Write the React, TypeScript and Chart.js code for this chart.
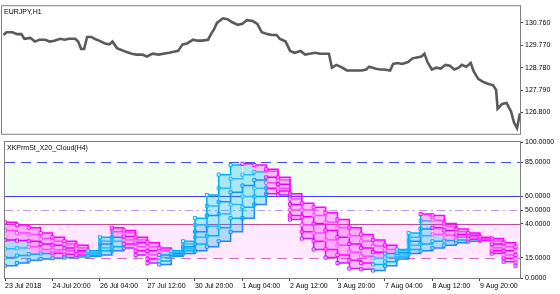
import React, { useEffect, useRef } from "react";
import { Chart, registerables } from "chart.js";
Chart.register(...registerables);

// ---------- data ----------
const priceBars = [1,3,7,10,13,15,19,22,25,29,32,35,39,42,45,49,51,53,55,57,60,62,65,69,72,74,77,80,83,87,90,94,97,101,105,108,112,115,118,121,124,128,131,134,138,140,142,144,148,151,154,158,161,164,168,171,174,178,181,184,186,190,193,196,200,203,206,210,213,216,219,221,224,228,231,234,238,241,244,246,250,253,256,260,262,265,268,272,275,278,281,283,285,288,291,294,297,300,303,306,308,311,314,316,319,322,325,329,331,332,335,338,341,343,345,347];
const priceValues = [130.224,130.348,130.348,130.265,130.265,130.059,130.100,129.935,130.018,130.018,129.935,129.976,130.059,130.018,130.059,130.059,129.935,129.605,129.605,130.141,130.141,130.059,129.976,129.853,129.811,129.935,129.646,129.564,129.481,129.399,129.358,129.358,129.275,129.399,129.358,129.399,129.440,129.481,129.523,129.811,129.853,130.018,129.976,129.976,130.018,130.265,130.471,130.760,130.966,130.925,130.801,130.678,130.719,130.884,130.843,130.719,130.348,130.265,130.224,130.224,130.059,129.935,129.523,129.440,129.523,129.358,129.399,129.440,129.399,129.399,129.399,128.780,128.904,128.780,128.656,128.656,128.656,128.656,128.698,128.821,128.739,128.698,128.698,128.656,128.945,128.986,128.945,129.028,129.193,129.234,129.275,129.399,129.028,128.698,128.780,128.739,128.904,128.863,128.698,128.780,128.904,128.821,128.986,128.615,128.285,128.161,128.079,127.996,127.790,126.965,127.171,127.213,126.841,126.346,126.099,126.759];
const priceTicks = [126.8, 127.79, 128.78, 129.77, 130.76];
const priceMin = 125.851;
const priceMax = 131.502;

const cloudBars = [0,8,16,24,32,40,48,56,64,72,80,88,96,104,112,120,128,136,144,152,160,168,176,184,192,200,208,216,224,232,240,248,256,264,272,280,288,296,304,312,320,328,336,344];
const cloudLine1 = [41,39,37,33,30,27,24,20,30,37,35,30,26,22,20,27,44,61,76,83,84,83,80,74,62,55,52,48,43,37,32,28,24,21,33,47,46,40,36,33,30,29,26,23];
const cloudLine2 = [35,33,32,29,27,25,22,19,27,34,33,28,23,20,19,25,39,53,66,73,76,78,78.5,72,58,50,46,41,37,31,27,23.5,21,20,30,42,42.5,38,34,32,29.5,27,23,20];
const cloudLine3 = [28,27.5,27,25,24,22,20,18.5,25,30,30.5,26,20,17,18,23,34,46,56,63,68,72,74,69,54,45,40,35,30,25,22,19,18,18.5,27,36,37,35,32,31,29,25,20,17];
const cloudLine4 = [21.5,22,23,21,20.5,20,19,17.5,22,27,28,23,17,15,17.5,21.5,30,38,47,54,60,66,70,66,50,39,33,28,24,19,16,14.5,15,17,24,31,32,31.5,30,29.5,28.5,22,17,14];
const cloudLine5 = [15,16.5,17.5,18,18.2,17.5,17,16.5,20,23,25,20,14,12.5,16.5,20,25,31,37,44,52,60,66,64,46,34,27,21,17,13,11,10,12,15.5,21,25,27,27.5,28,28.5,28,20,14.5,11.5];
const cloudLine6 = [9,11,13,14,14.5,15,15.5,16,17,20,22,17,11,10,16,18,20,23,27,34,44,54,62,61,43,29,21,15,11,7,6.5,5.5,9,14,18,20,22,24,26,27,27.5,18,12,9];
const cloudLines = [cloudLine1, cloudLine2, cloudLine3, cloudLine4, cloudLine5, cloudLine6];

const indicatorTicks = [0, 15, 40, 50, 60, 85, 100];
const timeTickBars = [0, 32, 64, 96, 128, 160, 192, 224, 256, 288, 320];
const timeTickLabels = ["23 Jul 2018","24 Jul 20:00","26 Jul 04:00","27 Jul 12:00","30 Jul 20:00","1 Aug 04:00","2 Aug 12:00","3 Aug 20:00","7 Aug 04:00","8 Aug 12:00","9 Aug 20:00"];
const barCount = 347;

// ---------- styles ----------
const FONT = "'Liberation Sans', Arial, sans-serif";
const risingColors = ["#00b0f0", "#30bcff", "#1090ff", "#30bcff", "#00b0f0", "#2a7cff"];
const fallingColors = ["#ff00ff", "#ff50ff", "#e000ff", "#ff50ff", "#ff00ff", "#c020ff"];
const risingFill = "rgba(0,176,240,0.30)";
const fallingFill = "rgba(255,0,255,0.26)";

const framePlugin = {
  id: "frame",
  afterDraw(chart: any, _a: any, opts: any) {
    const { ctx, chartArea } = chart;
    ctx.save();
    ctx.strokeStyle = "#7f7f7f";
    ctx.lineWidth = 1;
    ctx.strokeRect(chartArea.left - 0.5, chartArea.top - 0.5, chartArea.right - chartArea.left + 1, chartArea.bottom - chartArea.top + 1);
    ctx.fillStyle = "#000";
    ctx.font = "7px " + FONT;
    ctx.textBaseline = "alphabetic";
    ctx.textAlign = "left";
    ctx.fillText(opts.title, chartArea.left + 2, chartArea.top + opts.titleY);
    ctx.restore();
  },
};

const levelsPlugin = {
  id: "levels",
  beforeDatasetsDraw(chart: any) {
    const { ctx, chartArea, scales } = chart;
    const y = scales.y;
    const L = chartArea.left, R = chartArea.right;
    ctx.save();
    ctx.fillStyle = "#f0fff0";
    ctx.fillRect(L, y.getPixelForValue(85), R - L, y.getPixelForValue(60) - y.getPixelForValue(85));
    ctx.fillStyle = "#ffe8ff";
    ctx.fillRect(L, y.getPixelForValue(40), R - L, y.getPixelForValue(15) - y.getPixelForValue(40));
    const line = (v: number, color: string, dash: number[]) => {
      const py = Math.round(y.getPixelForValue(v)) + 0.5;
      ctx.beginPath();
      ctx.setLineDash(dash);
      ctx.strokeStyle = color;
      ctx.lineWidth = 1;
      ctx.moveTo(L, py);
      ctx.lineTo(R, py);
      ctx.stroke();
    };
    line(85, "#4646ff", [10, 6]);
    line(60, "#3c3cff", []);
    line(50, "#c09af0", [8, 4, 2, 4]);
    line(40, "#c04c90", []);
    line(15, "#d46aba", [10, 6]);
    ctx.restore();
  },
};

// horizontal gradient for the band between line li and li+1, coloured by direction
function bandFill(c: any, li: number) {
  const chart = c.chart;
  const xs = chart.scales && chart.scales.x;
  if (!chart.chartArea || !xs) return "rgba(0,0,0,0)";
  const left = chart.chartArea.left, right = chart.chartArea.right;
  const g = chart.ctx.createLinearGradient(left, 0, right, 0);
  const a = cloudLines[li], b = cloudLines[li + 1];
  const w = right - left;
  for (let i = 0; i < cloudBars.length; i++) {
    const x0 = xs.getPixelForValue(cloudBars[i]);
    const x1 = i + 1 < cloudBars.length ? xs.getPixelForValue(cloudBars[i + 1]) : right;
    const d = i + 1 < cloudBars.length ? (a[i + 1] - a[i]) + (b[i + 1] - b[i]) : (a[i] - a[i - 1]) + (b[i] - b[i - 1]);
    const col = d >= 0 ? risingFill : fallingFill;
    const p0 = Math.min(1, Math.max(0, (x0 - left) / w));
    const p1 = Math.min(1, Math.max(0, (x1 - left) / w));
    g.addColorStop(p0, col);
    g.addColorStop(p1, col);
  }
  return g;
}

export default function App() {
  const topRef = useRef<HTMLCanvasElement>(null);
  const botRef = useRef<HTMLCanvasElement>(null);

  useEffect(() => {
    document.body.style.margin = "0";
    const tickFont = { family: FONT, size: 7 };

    const top = new Chart(topRef.current!, {
      type: "line",
      data: {
        datasets: [
          {
            data: priceBars.map((b, i) => ({ x: b, y: priceValues[i] })),
            borderColor: "#5a5a5a",
            borderWidth: 2.6,
            pointRadius: 0,
            tension: 0,
          },
        ],
      },
      options: {
        animation: false,
        responsive: false,
        devicePixelRatio: 1,
        layout: { padding: { left: 2, top: 2, right: 0, bottom: 1 } },
        plugins: { legend: { display: false }, tooltip: { enabled: false }, frame: { title: "EURJPY,H1", titleY: 7.5 } } as any,
        scales: {
          x: { type: "linear", min: 0, max: barCount, display: false },
          y: {
            position: "right",
            min: priceMin,
            max: priceMax,
            afterFit: (s: any) => { s.width = 40; },
            afterBuildTicks: (s: any) => { s.ticks = priceTicks.map((v) => ({ value: v })); },
            ticks: { font: tickFont, color: "#000", padding: 2, callback: (v: any) => Number(v).toFixed(3) },
            grid: { drawOnChartArea: false, tickLength: 3, color: "#404040" },
            border: { display: true, color: "#7f7f7f" },
          },
        },
      },
      plugins: [framePlugin],
    });

    const dirColor = (arr: number[], i: number, li: number) => {
      const j = Math.min(i, arr.length - 2);
      return arr[j + 1] >= arr[j] ? risingColors[li] : fallingColors[li];
    };

    const bot = new Chart(botRef.current!, {
      type: "line",
      data: {
        datasets: cloudLines.map((arr, li) => ({
          data: cloudBars.map((b, i) => ({ x: b, y: arr[i] })),
          stepped: true,
          borderWidth: 1.5,
          fill: li < cloudLines.length - 1 ? "+1" : false,
          backgroundColor: (c: any) => bandFill(c, Math.min(li, cloudLines.length - 2)),
          pointStyle: "rect",
          pointRadius: 2.2,
          pointBorderWidth: 1,
          pointBackgroundColor: "rgba(255,255,255,0.75)",
          pointBorderColor: (c: any) => dirColor(arr, c.dataIndex, li),
          borderColor: risingColors[li],
          segment: {
            borderColor: (c: any) => (c.p1.parsed.y >= c.p0.parsed.y ? risingColors[li] : fallingColors[li]),
          },
        })),
      },
      options: {
        animation: false,
        responsive: false,
        devicePixelRatio: 1,
        layout: { padding: { left: 2, top: 14, right: 0, bottom: 0 } },
        plugins: { legend: { display: false }, tooltip: { enabled: false }, filler: { propagate: false }, frame: { title: "XKPrmSt_X20_Cloud(H4)", titleY: 7.5 } } as any,
        scales: {
          x: {
            type: "linear",
            min: 0,
            max: barCount,
            afterFit: (s: any) => { s.height = 16; },
            afterBuildTicks: (s: any) => { s.ticks = timeTickBars.map((v) => ({ value: v })); },
            ticks: {
              font: tickFont,
              color: "#000",
              align: "start",
              padding: 1,
              autoSkip: false,
              maxRotation: 0,
              callback: (v: any) => { const i = timeTickBars.indexOf(Number(v)); return i >= 0 ? timeTickLabels[i] : ""; },
            },
            grid: { drawOnChartArea: false, tickLength: 3, color: "#404040" },
            border: { display: true, color: "#7f7f7f" },
          },
          y: {
            position: "right",
            min: 0,
            max: 100,
            afterFit: (s: any) => { s.width = 40; },
            afterBuildTicks: (s: any) => { s.ticks = indicatorTicks.map((v) => ({ value: v })); },
            ticks: { font: tickFont, color: "#000", padding: 2, callback: (v: any) => Number(v).toFixed(4) },
            grid: { drawOnChartArea: false, tickLength: 3, color: "#404040" },
            border: { display: true, color: "#7f7f7f" },
          },
        },
      },
      plugins: [levelsPlugin, framePlugin],
    });

    return () => {
      top.destroy();
      bot.destroy();
    };
  }, []);

  return (
    <div style={{ position: "absolute", left: 0, top: 0, width: 560, height: 294, background: "#fff", overflow: "hidden" }}>
      <canvas ref={topRef} width={560} height={140} style={{ position: "absolute", left: 0, top: 0 }} />
      <canvas ref={botRef} width={560} height={166} style={{ position: "absolute", left: 0, top: 128 }} />
    </div>
  );
}
